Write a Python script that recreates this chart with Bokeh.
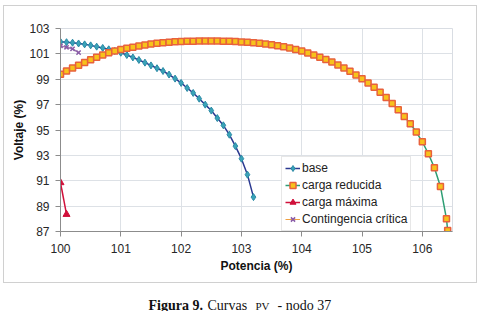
from bokeh.plotting import figure
from bokeh.layouts import column
from bokeh.models import (Range1d, FixedTicker, Legend, LegendItem, Label)
from bokeh.embed import file_html
from bokeh.resources import INLINE

# ---- data ----
base_p = [100.0, 100.1, 100.2, 100.3, 100.4, 100.5, 100.6, 100.7, 100.8, 100.9,
          101.0, 101.1, 101.2, 101.3, 101.4, 101.5, 101.6, 101.7, 101.8, 101.9,
          102.0, 102.1, 102.2, 102.3, 102.4, 102.5, 102.6, 102.7, 102.8, 102.9,
          103.0, 103.1, 103.2]
base_v = [101.95, 101.92, 101.88, 101.82, 101.75, 101.67, 101.57, 101.47, 101.36, 101.23,
          101.09, 100.91, 100.72, 100.52, 100.31, 100.09, 99.87, 99.65, 99.37, 99.05,
          98.71, 98.31, 97.92, 97.47, 97.00, 96.53, 95.94, 95.37, 94.63, 93.73,
          92.74, 91.48, 89.71]

red_p = [100.0, 100.1, 100.2, 100.3, 100.4, 100.5, 100.6, 100.7, 100.8, 100.9,
         101.0, 101.1, 101.2, 101.3, 101.4, 101.5, 101.6, 101.7, 101.8, 101.9,
         102.0, 102.1, 102.2, 102.3, 102.4, 102.5, 102.6, 102.7, 102.8, 102.9,
         103.0, 103.1, 103.2, 103.3, 103.4, 103.5, 103.6, 103.7, 103.8, 103.9,
         104.0, 104.1, 104.2, 104.3, 104.4, 104.5, 104.6, 104.7, 104.8, 104.9,
         105.0, 105.1, 105.2, 105.3, 105.4, 105.5, 105.6, 105.7, 105.8, 105.9,
         106.0, 106.1, 106.2, 106.3, 106.4, 106.42]
red_v = [99.39, 99.65, 99.89, 100.10, 100.32, 100.53, 100.73, 100.92, 101.08, 101.22,
         101.34, 101.44, 101.53, 101.62, 101.70, 101.77, 101.83, 101.88, 101.92, 101.95,
         101.97, 101.99, 102.00, 102.01, 102.02, 102.02, 102.01, 102.00, 101.99, 101.97,
         101.94, 101.91, 101.87, 101.83, 101.78, 101.72, 101.65, 101.56, 101.46, 101.35,
         101.22, 101.07, 100.91, 100.74, 100.55, 100.35, 100.13, 99.89, 99.63, 99.34,
         99.03, 98.71, 98.36, 97.98, 97.56, 97.09, 96.60, 96.07, 95.49, 94.84,
         94.07, 93.13, 92.03, 90.55, 88.00, 87.08]

max_p = [100.0, 100.1]
max_v = [90.85, 88.35]

cont_p = [100.0, 100.1, 100.2, 100.3]
cont_v = [101.63, 101.52, 101.40, 101.10]

x_ticks = [100, 101, 102, 103, 104, 105, 106]
y_ticks = [87, 89, 91, 93, 95, 97, 99, 101, 103]

SANS = "Liberation Sans"
SERIF = "Liberation Serif"

# light grey border of the chart area, painted as the chart's own CSS background
g = "linear-gradient(#D0D0D0,#D0D0D0)"
box_styles = {
    "background-color": "white",
    "background-image": ", ".join([g] * 4),
    "background-size": "474px 1px, 474px 1px, 1px 278px, 1px 278px",
    "background-position": "3px 5px, 3px 282px, 3px 5px, 476px 5px",
    "background-repeat": "no-repeat",
}

# ---- chart area ----
p = figure(width=479, height=283, output_backend="svg", toolbar_location=None,
           x_range=Range1d(100, 106.5), y_range=Range1d(87, 103),
           min_border_left=60, min_border_right=27, min_border_top=28, min_border_bottom=52,
           styles=box_styles)
p.background_fill_color = "white"
p.border_fill_color = None
p.outline_line_color = "#D9DDE3"

p.xaxis.ticker = FixedTicker(ticks=x_ticks)
p.yaxis.ticker = FixedTicker(ticks=y_ticks)
for ax in (p.xaxis[0], p.yaxis[0]):
    ax.axis_line_color = "#8C8C8C"
    ax.major_tick_line_color = "#8C8C8C"
    ax.major_tick_out = 5
    ax.major_tick_in = 0
    ax.minor_tick_line_color = None
    ax.major_label_text_font = SANS
    ax.major_label_text_font_size = "12px"
    ax.major_label_text_color = "#262626"
    ax.axis_label_text_font = SANS
    ax.axis_label_text_font_size = "12px"
    ax.axis_label_text_font_style = "bold"
    ax.axis_label_text_color = "#111111"
p.xaxis.axis_label = "Potencia (%)"
p.yaxis.axis_label = "Voltaje (%)"
p.xaxis.major_label_standoff = 7
p.yaxis.major_label_standoff = 6
p.xaxis.axis_label_standoff = 3
p.yaxis.axis_label_standoff = 0

p.xgrid.grid_line_color = "#DDE1E6"
p.ygrid.grid_line_color = "#DDE1E6"

# series
r1l = p.line(base_p, base_v, line_color="#2B3990", line_width=1.5)
r1m = p.scatter(base_p, base_v, marker="diamond", size=7, fill_color="#3AA3B8",
                line_color="#2A8AA5", line_width=1)

r2l = p.line(red_p, red_v, line_color="#2E9E74", line_width=1.5)
r2m = p.scatter(red_p, red_v, marker="square", size=6, fill_color="#F7C21B",
                line_color="#E8613C", line_width=1.5)

r3l = p.line(max_p, max_v, line_color="#D0103A", line_width=1.5)
r3m = p.scatter(max_p, max_v, marker="triangle", size=7, fill_color="#D0103A",
                line_color="#D0103A")

# orange series line (as shown in the legend), covered by the purple connector
r4o = p.line(cont_p, cont_v, line_color="#F0A040", line_width=1)
r4l = p.line(cont_p, cont_v, line_color="#9B7BB5", line_width=1.5)
r4m = p.scatter(cont_p, cont_v, marker="x", size=6, line_color="#8A5CA8", line_width=1.5)

legend = Legend(items=[
    LegendItem(label="base", renderers=[r1l, r1m]),
    LegendItem(label="carga reducida", renderers=[r2l, r2m]),
    LegendItem(label="carga máxima", renderers=[r3l, r3m]),
    LegendItem(label="Contingencia crítica", renderers=[r4o, r4m]),
], location=(221, 0))
legend.label_text_font = SANS
legend.label_text_font_size = "12px"
legend.label_text_color = "#222222"
legend.glyph_width = 15
legend.glyph_height = 16
legend.label_height = 16
legend.label_standoff = 2
legend.spacing = 1
legend.padding = 3
legend.margin = 0
legend.border_line_color = "#D0D0D0"
legend.background_fill_color = "white"
legend.background_fill_alpha = 1
p.add_layout(legend, "center")

# ---- caption below the chart box (its frame is aligned with the chart frame, px 60..452) ----
cap = figure(width=479, height=28, output_backend="svg", toolbar_location=None,
             x_range=Range1d(60, 452), y_range=Range1d(0, 28),
             x_axis_type=None, y_axis_type=None, min_border=0)
cap.outline_line_color = None
cap.background_fill_color = "white"
cap.border_fill_color = "white"
cap.grid.visible = False
for txt, x, style, size in [("Figura 9.", 148, "bold", "14px"),
                            ("Curvas", 207, "normal", "14px"),
                            ("PV", 255, "normal", "11px"),
                            ("- nodo 37", 277, "normal", "14px")]:
    cap.add_layout(Label(x=x, y=6, text=txt,
                         text_font=SERIF, text_font_size=size, text_font_style=style,
                         text_color="#111111", text_align="left", text_baseline="alphabetic"))

layout = column(p, cap, spacing=0)
open("out.html", "w").write(file_html(layout, INLINE))
